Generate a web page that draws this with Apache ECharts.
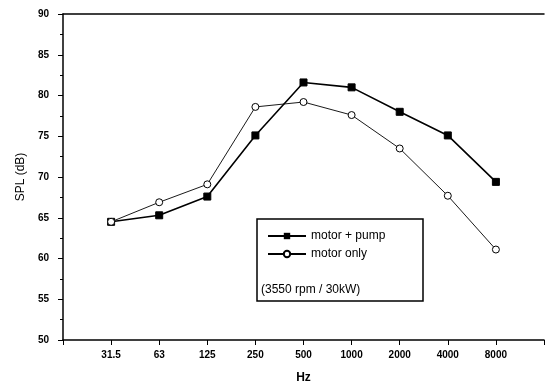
<!DOCTYPE html>
<html>
<head>
<meta charset="utf-8">
<script src="https://cdn.jsdelivr.net/npm/echarts@6/dist/echarts.min.js"></script>
<style>
  html, body { margin: 0; padding: 0; background: #fff; }
  #chart { width: 547px; height: 389px; }
</style>
</head>
<body>
<div id="chart"></div>
<script>
// Octave-band centre frequencies (Hz); empty slots pad the axis at both ends
const bands = ['', '31.5', '63', '125', '250', '500', '1000', '2000', '4000', '8000', ''];
// Sound pressure level, dB
const motorPump = [null, 64.5, 65.3, 67.6, 75.1, 81.6, 81.0, 78.0, 75.1, 69.4, null];
const motorOnly = [null, 64.5, 66.9, 69.1, 78.6, 79.2, 77.6, 73.5, 67.7, 61.1, null];
const seriesNames = ['motor + pump', 'motor only'];
const conditionNote = '(3550 rpm / 30kW)';

const chart = echarts.init(document.getElementById('chart'));
const tickFont = { fontFamily: 'Liberation Sans', fontWeight: 'bold', fontSize: 10, color: '#000' };

chart.setOption({
  animation: false,
  backgroundColor: '#fff',
  grid: { left: 63, right: 0, top: 14, bottom: 47 },
  xAxis: [{
    type: 'category',
    data: bands,
    boundaryGap: false,
    name: 'Hz',
    nameLocation: 'middle',
    nameGap: 32,
    nameTextStyle: { fontFamily: 'Liberation Sans', fontWeight: 'bold', fontSize: 12, color: '#000' },
    axisLine: { lineStyle: { color: '#000', width: 1.5 } },
    axisTick: { show: true, inside: false, length: 5, interval: 0, lineStyle: { color: '#000' } },
    axisLabel: Object.assign({ interval: 0, margin: 10 }, tickFont),
    splitLine: { show: false }
  }, {
    type: 'category',
    data: bands,
    boundaryGap: false,
    position: 'top',
    axisLine: { lineStyle: { color: '#000', width: 1.5 } },
    axisTick: { show: false },
    axisLabel: { show: false },
    splitLine: { show: false }
  }],
  yAxis: {
    type: 'value',
    min: 50,
    max: 90,
    interval: 5,
    name: 'SPL (dB)',
    nameLocation: 'middle',
    nameGap: 36,
    nameTextStyle: { fontFamily: 'Liberation Sans', fontSize: 12, color: '#000' },
    axisLine: { show: true, lineStyle: { color: '#000', width: 1.5 } },
    axisTick: { show: true, length: 5, lineStyle: { color: '#000' } },
    minorTick: { show: true, splitNumber: 2, length: 3, lineStyle: { color: '#000' } },
    axisLabel: Object.assign({ margin: 14 }, tickFont),
    splitLine: { show: false }
  },
  legend: {
    orient: 'vertical',
    left: 262,
    top: 225,
    itemWidth: 38,
    itemHeight: 8,
    itemGap: 6,
    textStyle: { fontFamily: 'Liberation Sans', fontSize: 12, color: '#000' },
    data: seriesNames
  },
  graphic: [{
    type: 'rect',
    shape: { x: 257, y: 219, width: 166, height: 82 },
    style: { fill: 'none', stroke: '#000', lineWidth: 1.5 },
    z: 10
  }, {
    type: 'text',
    x: 261,
    y: 290,
    style: {
      text: conditionNote,
      fontFamily: 'Liberation Sans',
      fontSize: 12,
      fill: '#000',
      verticalAlign: 'middle'
    },
    z: 10
  }],
  series: [{
    name: seriesNames[0],
    type: 'line',
    data: motorPump,
    symbol: 'rect',
    symbolSize: 7,
    lineStyle: { color: '#000', width: 1.6 },
    itemStyle: { color: '#000', borderColor: '#000' }
  }, {
    name: seriesNames[1],
    type: 'line',
    data: motorOnly,
    symbol: 'circle',
    symbolSize: 7,
    showAllSymbol: true,
    lineStyle: { color: '#000', width: 0.9 },
    itemStyle: { color: '#fff', borderColor: '#000', borderWidth: 1 }
  }]
});
</script>
</body>
</html>
